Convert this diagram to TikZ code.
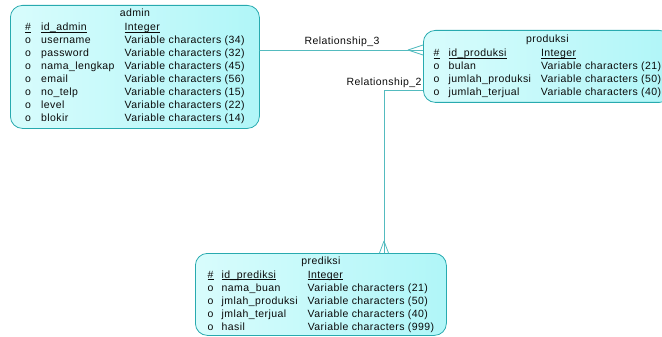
\documentclass[tikz,border=0pt]{standalone}
\usepackage{fontspec}
\setmainfont{Liberation Sans}[LetterSpace=4]
\usetikzlibrary{positioning}
\definecolor{tealline}{RGB}{40,170,175}
\definecolor{boxlight}{RGB}{216,252,252}
\definecolor{boxdark}{RGB}{176,246,248}
\definecolor{txt}{RGB}{10,10,10}
\newcommand{\pk}[1]{\leavevmode\setbox0\hbox{#1}\rlap{\rule[-1.6pt]{\wd0}{0.5pt}}\box0}
\begin{document}
\begin{tikzpicture}[x=1pt, y=-1pt, font=\fontsize{10.5}{13}\selectfont, line join=round, line cap=round,
		entity/.style={draw=tealline, line width=0.8pt, rounded corners=12pt, left color=boxlight, right color=boxdark, anchor=north west, inner sep=0pt, text=txt},
		rel/.style={draw=tealline!80, line width=0.8pt},
		relname/.style={text=txt, inner sep=0pt, anchor=base}]
	\useasboundingbox (0,0) rectangle (662,337);
	\node[entity, minimum width=249pt, minimum height=123pt] (admin) at (10,5) {%
		\begin{tabular}{@{}p{16pt}@{}l@{\hspace{10pt}}l@{}}
			\multicolumn{3}{c}{admin}\\[1pt]
			\pk{\#} & \pk{id\_admin} & \pk{Integer}\\
			o & username & Variable characters (34)\\
			o & password & Variable characters (32)\\
			o & nama\_lengkap & Variable characters (45)\\
			o & email & Variable characters (56)\\
			o & no\_telp & Variable characters (15)\\
			o & level & Variable characters (22)\\
			o & blokir & Variable characters (14)
		\end{tabular}};
	\node[entity, minimum width=248pt, minimum height=72pt] (produksi) at (423,30) {%
		\begin{tabular}{@{}p{15pt}@{}l@{\hspace{10pt}}l@{}}
			\multicolumn{3}{c}{produksi}\\[1pt]
			\pk{\#} & \pk{id\_produksi} & \pk{Integer}\\
			o & bulan & Variable characters (21)\\
			o & jumlah\_produksi & Variable characters (50)\\
			o & jumlah\_terjual & Variable characters (40)
		\end{tabular}};
	\node[entity, minimum width=251pt, minimum height=82pt] (prediksi) at (195,253) {%
		\begin{tabular}{@{}p{14pt}@{}l@{\hspace{10pt}}l@{}}
			\multicolumn{3}{c}{prediksi}\\[1pt]
			\pk{\#} & \pk{id\_prediksi} & \pk{Integer}\\
			o & nama\_buan & Variable characters (21)\\
			o & jmlah\_produksi & Variable characters (50)\\
			o & jmlah\_terjual & Variable characters (40)\\
			o & hasil & Variable characters (999)
		\end{tabular}};
	\coordinate (r3) at (0,50);
	\coordinate (r3foot) at (408,50);
	\draw[rel] (admin.east |- r3) -- (produksi.west |- r3);
	\draw[rel] (r3foot) -- ++(15,-5) (r3foot) -- ++(15,5);
	\node[relname] (r3name) at (342,45) {Relationship\_3};
	\coordinate (bend2) at (384,90);
	\coordinate (r2foot) at (384,241);
	\draw[rel] (produksi.west |- bend2) -- (bend2) -- (bend2 |- prediksi.north);
	\draw[rel] (r2foot) -- ++(-4.5,12) (r2foot) -- ++(4.5,12);
	\node[relname] (r2name) at (384,85) {Relationship\_2};
\end{tikzpicture}
\end{document}
